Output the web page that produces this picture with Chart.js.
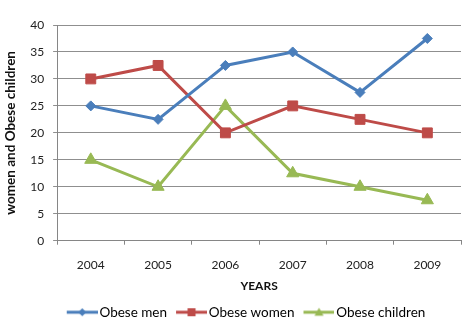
<!DOCTYPE html>
<html><head><meta charset="utf-8">
<script src="https://cdn.jsdelivr.net/npm/chart.js@4"></script>
<style>html,body{margin:0;padding:0;background:#fff}#wrap{width:469px;height:326px}</style>
</head><body><div id="wrap"><canvas id="c"></canvas></div>
<script>
const years = ["2004","2005","2006","2007","2008","2009"];
const obeseMen = [25, 22.5, 32.5, 35, 27.5, 37.5];
const obeseWomen = [30, 32.5, 20, 25, 22.5, 20];
const obeseChildren = [15, 10, 25, 12.5, 10, 7.5];
const seriesNames = ["Obese men","Obese women","Obese children"];
const colors = ["#4A7EBB","#BE4B48","#98B954"];
const styles = ["rectRot","rect","triangle"];
const radii = [5,7,7];

function legendIcon(color, style){
  const cv = document.createElement('canvas');
  cv.width = 36; cv.height = 12;
  const g = cv.getContext('2d');
  g.strokeStyle = color; g.lineWidth = 3;
  g.beginPath(); g.moveTo(5,6); g.lineTo(36,6); g.stroke();
  g.fillStyle = color;
  g.beginPath();
  const cx = 20.5;
  if(style==='rectRot'){g.moveTo(cx,2);g.lineTo(cx+4,6);g.lineTo(cx,10);g.lineTo(cx-4,6);}
  else if(style==='rect'){g.rect(cx-4,2,8,8);}
  else {g.moveTo(cx,1.5);g.lineTo(cx+4.5,9.5);g.lineTo(cx-4.5,9.5);}
  g.closePath(); g.fill();
  return cv;
}
const shiftLegend = {
  id: 'shiftLegend',
  afterLayout(chart){ const l = chart.legend; if(l){ l.left += 13; l.right += 13; } }
};
const font = "Lato";
const data = [obeseMen, obeseWomen, obeseChildren];
new Chart(document.getElementById('c'), {
  type: 'line',
  data: {
    labels: years,
    datasets: data.map((d,i)=>({
      label: seriesNames[i], data: d,
      borderColor: colors[i], backgroundColor: colors[i],
      borderWidth: 3, pointStyle: styles[i], pointRadius: radii[i],
      pointBorderWidth: 1, tension: 0
    }))
  },
  plugins: [shiftLegend],
  options: {
    responsive: true, maintainAspectRatio: false, animation: false,
    layout: {padding: {top: 25, right: 3, left: 0, bottom: -3}},
    plugins: {
      tooltip: {enabled: false},
      legend: {
        position: 'bottom',
        labels: {
          usePointStyle: true, pointStyleWidth: 26, boxHeight: 12,
          padding: 9, color: '#222', font: {family: font, size: 13.5},
          generateLabels: (chart) => chart.data.datasets.map((ds,i)=>({
            text: ds.label, pointStyle: legendIcon(colors[i], styles[i]),
            fillStyle: colors[i], strokeStyle: colors[i], lineWidth: 0,
            datasetIndex: i, hidden: false
          }))
        }
      }
    },
    scales: {
      x: {
        offset: true,
        grid: {offset: true, drawOnChartArea: false, color: '#868686', tickLength: 4},
        border: {color: '#868686', width: 1},
        ticks: {color: '#222', font: {family: font, size: 12}, padding: 13},
        title: {display: true, text: 'YEARS', color: '#111', font: {family: font, size: 12, weight: 'bold'}, padding: {top: -6, bottom: 3}}
      },
      y: {
        min: 0, max: 40,
        ticks: {stepSize: 5, color: '#222', font: {family: font, size: 12}, padding: 9},
        grid: {color: '#8f8f8f', tickLength: 4},
        border: {color: '#868686', width: 1},
        title: {display: true, text: 'women and Obese children', color: '#111', font: {family: font, size: 13.5, weight: 'bold'}, padding: {top: 3, bottom: 2}}
      }
    }
  }
});
</script></body></html>
